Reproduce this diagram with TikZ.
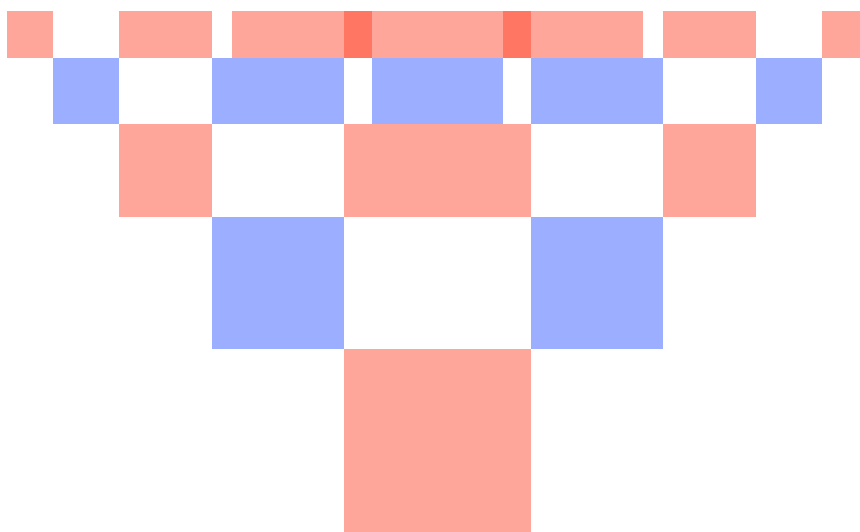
\documentclass[tikz,border=0pt]{standalone}
\definecolor{sqred}{RGB}{255,62,34}
\definecolor{sqblue}{RGB}{38,79,255}
\begin{document}
\begin{tikzpicture}[line join=round,line cap=round]
	\tikzset{redsq/.style={fill=sqred,fill opacity=.46},
		bluesq/.style={fill=sqblue,fill opacity=.46}}
	\def\xmin{-9.383} \def\xmax{9.062}
	\def\ymin{-3.91} \def\ymax{7.479}
	\useasboundingbox (\xmin,\ymin) rectangle (\xmax,\ymax);
	
	\begin{scope}
		\clip (\xmin,\ymin) rectangle (\xmax,\ymax);
		% --- Level 0 ---
		\fill[redsq] (-2,-4) rectangle (2,0);
		
		% --- Level 1 (side 4/sqrt2) ---
		\foreach \a in {-4.8284,2}
		\fill[bluesq] (\a,0) rectangle ++(2.8284,2.8284);
		
		% --- Level 2 ---
		\foreach \a in {-6.8284,-2,0,4.8284}
		\fill[redsq] (\a,2.8284) rectangle ++(2,2);
		
		% --- Level 3 ---
		\foreach \a in {-8.2426,-4.8284,-3.4142,0,-1.4142,2,3.4142,6.8284}
		\fill[bluesq] (\a,4.8284) rectangle ++(1.4142,1.4142);
		
		% --- Level 4 (overlaps come out darker) ---
		\foreach \a in {-9.2426,-6.8284,-5.8284,-3.4142,-4.4142,-2,-1,1.4142,-2.4142,0,1,3.4142,2.4142,4.8284,5.8284,8.2426}
		\fill[redsq] (\a,6.2426) rectangle ++(1,1);
	\end{scope}
\end{tikzpicture}
\end{document}
